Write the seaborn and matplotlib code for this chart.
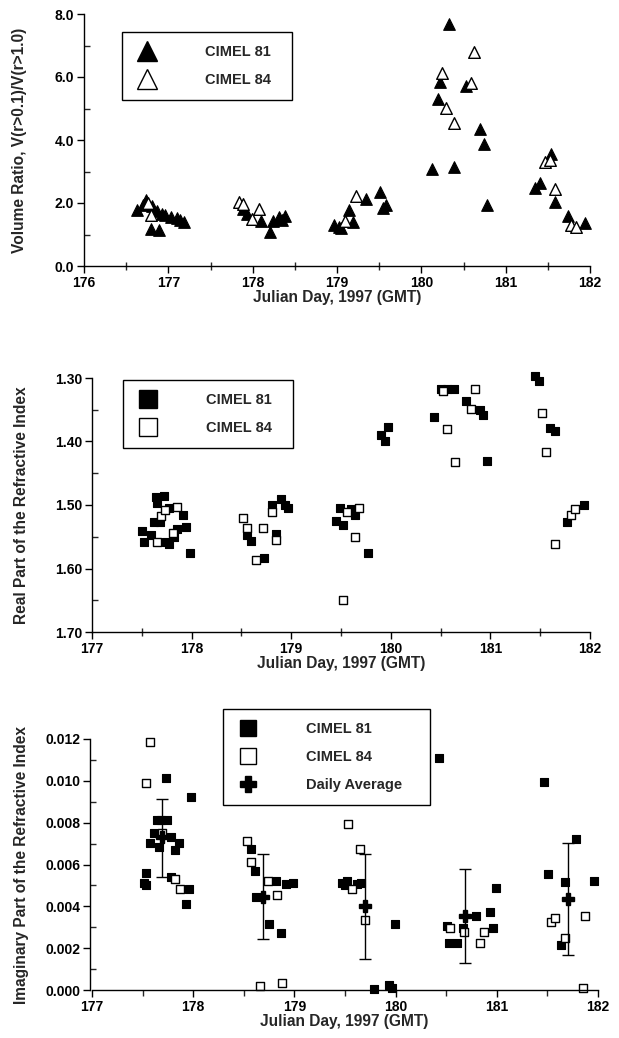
import matplotlib
matplotlib.use("Agg")
import matplotlib.pyplot as plt
import seaborn as sns
from matplotlib.ticker import MultipleLocator, FormatStrFormatter

# ---- panel 1: volume ratio ----
vr81_day = [176.63, 176.70, 176.74, 176.81, 176.86, 176.92, 176.96, 177.03, 177.10, 177.14,
            177.18, 176.79, 176.89,
            177.89, 177.93, 178.10, 178.20, 178.24, 178.31, 178.38, 178.35,
            178.97, 179.02, 179.05, 179.14, 179.19, 179.34, 179.51, 179.55, 179.58,
            180.13, 180.33, 180.22, 180.20, 180.39, 180.53, 180.70, 180.74, 180.78,
            181.35, 181.41, 181.54, 181.58, 181.74, 181.94]
vr81_val = [1.77, 1.95, 2.09, 1.90, 1.75, 1.65, 1.62, 1.57, 1.52, 1.45,
            1.40, 1.19, 1.13,
            1.82, 1.66, 1.42, 1.08, 1.43, 1.56, 1.58, 1.47,
            1.29, 1.24, 1.21, 1.77, 1.40, 2.12, 2.35, 1.85, 1.95,
            3.09, 7.67, 5.85, 5.29, 3.15, 5.71, 4.36, 3.86, 1.93,
            2.48, 2.62, 3.57, 2.03, 1.58, 1.35]
vr84_day = [176.80, 176.76, 177.84, 177.89, 177.99, 178.08, 179.10, 179.23,
            180.24, 180.29, 180.39, 180.63, 180.59,
            181.47, 181.52, 181.58, 181.77, 181.83]
vr84_val = [1.63, 2.00, 2.03, 1.96, 1.50, 1.82, 1.43, 2.21,
            6.13, 5.03, 4.54, 6.80, 5.82,
            3.31, 3.36, 2.46, 1.29, 1.24]

# ---- panel 2: real part ----
re81_day = [177.50, 177.52, 177.59, 177.62, 177.68, 177.64, 177.65, 177.72, 177.74, 177.77,
            177.77, 177.82, 177.85, 177.91, 177.94, 177.98,
            178.56, 178.60, 178.73, 178.81, 178.85, 178.90, 178.97, 178.94,
            179.49, 179.45, 179.52, 179.60, 179.64, 179.77,
            179.90, 179.94, 179.97,
            180.43, 180.50, 180.56, 180.63, 180.76, 180.90, 180.93, 180.97,
            181.45, 181.49, 181.60, 181.65, 181.77, 181.94]
re81_val = [1.541, 1.558, 1.548, 1.526, 1.526, 1.487, 1.497, 1.486, 1.559, 1.561,
            1.505, 1.550, 1.538, 1.516, 1.534, 1.575,
            1.548, 1.557, 1.583, 1.500, 1.546, 1.491, 1.505, 1.500,
            1.504, 1.525, 1.532, 1.507, 1.516, 1.576,
            1.389, 1.400, 1.377,
            1.362, 1.317, 1.317, 1.317, 1.337, 1.350, 1.359, 1.430,
            1.297, 1.304, 1.379, 1.383, 1.526, 1.500]
re84_day = [177.69, 177.73, 177.85, 177.65, 177.81,
            178.52, 178.56, 178.65, 178.72, 178.81, 178.85,
            179.56, 179.68, 179.64, 179.52,
            180.52, 180.56, 180.64, 180.85, 180.81,
            181.52, 181.56, 181.65, 181.81, 181.85]
re84_val = [1.517, 1.508, 1.503, 1.558, 1.544,
            1.521, 1.537, 1.586, 1.537, 1.511, 1.555,
            1.511, 1.504, 1.550, 1.650,
            1.321, 1.381, 1.432, 1.318, 1.349,
            1.355, 1.416, 1.562, 1.516, 1.507]

# ---- panel 3: imaginary part ----
im81_day = [177.51, 177.53, 177.53, 177.73, 177.98, 177.64, 177.68, 177.74, 177.61, 177.57,
            177.66, 177.78, 177.86, 177.82, 177.78, 177.96, 177.93,
            178.57, 178.61, 178.82, 178.92, 178.99, 178.62, 178.75, 178.87,
            179.47, 179.52, 179.50, 179.62, 179.66, 179.99, 179.79, 179.93, 179.96,
            180.43, 180.51, 180.67, 180.53, 180.61, 180.79, 180.93, 180.96, 180.99,
            181.47, 181.51, 181.67, 181.63, 181.78, 181.96]
im81_val = [0.00510, 0.00502, 0.00561, 0.01012, 0.00924, 0.00813, 0.00813, 0.00813, 0.00752, 0.00701,
            0.00682, 0.00730, 0.00701, 0.00669, 0.00542, 0.00481, 0.00411,
            0.00673, 0.00570, 0.00523, 0.00505, 0.00513, 0.00443, 0.00314, 0.00274,
            0.00513, 0.00521, 0.00502, 0.00507, 0.00513, 0.00314, 0.00005, 0.00024, 0.00008,
            0.01108, 0.00306, 0.00295, 0.00226, 0.00226, 0.00355, 0.00375, 0.00295, 0.00486,
            0.00996, 0.00555, 0.00515, 0.00215, 0.00722, 0.00523]
im84_day = [177.57, 177.53, 177.69, 177.82, 177.87,
            178.53, 178.57, 178.74, 178.83, 178.66, 178.88,
            179.53, 179.65, 179.57, 179.70,
            180.54, 180.68, 180.83, 180.87,
            181.54, 181.58, 181.67, 181.87, 181.85]
im84_val = [0.01184, 0.00991, 0.00749, 0.00531, 0.00481,
            0.00712, 0.00614, 0.00523, 0.00454, 0.00021, 0.00032,
            0.00792, 0.00673, 0.00481, 0.00335,
            0.00295, 0.00279, 0.00226, 0.00276,
            0.00327, 0.00346, 0.00247, 0.00355, 0.00008]
avg_day = [177.69, 178.69, 179.70, 180.69, 181.70]
avg_val = [0.00733, 0.00446, 0.00402, 0.00355, 0.00435]
avg_hi = [0.00912, 0.00649, 0.00650, 0.00578, 0.00704]
avg_lo = [0.00542, 0.00242, 0.00147, 0.00127, 0.00167]

sns.set_style("ticks")
plt.rcParams['font.family'] = ['Liberation Sans', 'DejaVu Sans']
plt.rcParams['font.weight'] = 'bold'
plt.rcParams['axes.labelweight'] = 'bold'

fig = plt.figure(figsize=(6.19, 10.38), dpi=100)
W, H = 619, 1038
LABEL_FS = 11.2
TICK_FS = 10


def make_axes(l, r, t, b):
    return fig.add_axes([l / W, 1 - b / H, (r - l) / W, (b - t) / H])


def style_axes(ax):
    sns.despine(ax=ax)
    for s in ['left', 'bottom']:
        ax.spines[s].set_linewidth(1.0)
        ax.spines[s].set_color('black')
    ax.tick_params(which='major', direction='out', length=5, width=1, labelsize=TICK_FS,
                   colors='black', pad=2)
    ax.tick_params(axis='x', which='minor', direction='inout', length=6, width=1)
    ax.tick_params(axis='y', which='minor', direction='in', length=4, width=1)
    for lab in ax.get_xticklabels() + ax.get_yticklabels():
        lab.set_fontweight('bold')


def add_legend(ax, handles, labels, x0, top, w):
    leg = ax.legend(handles, labels, loc='upper left', bbox_to_anchor=(x0, top, w, 0),
                    mode='expand', frameon=True, fancybox=False, edgecolor='black',
                    framealpha=1, fontsize=10.5, borderpad=0.9, labelspacing=0.95,
                    handletextpad=3.2, handlelength=1.6, markerscale=1.0, borderaxespad=0)
    leg.get_frame().set_linewidth(1.0)
    for t in leg.get_texts():
        t.set_fontweight('bold')
    return leg


# ---------- panel 1 ----------
ax1 = make_axes(84, 590, 14, 266)
sns.scatterplot(x=vr81_day, y=vr81_val, marker='^', color='black', edgecolor='black',
                s=70, linewidth=0.8, ax=ax1, clip_on=False)
sns.scatterplot(x=vr84_day, y=vr84_val, marker='^', color='white', edgecolor='black',
                s=70, linewidth=1.0, ax=ax1, clip_on=False)
ax1.set_xlim(176, 182)
ax1.set_ylim(0, 8)
ax1.xaxis.set_major_locator(MultipleLocator(1))
ax1.xaxis.set_minor_locator(MultipleLocator(0.5))
ax1.yaxis.set_major_locator(MultipleLocator(2))
ax1.yaxis.set_minor_locator(MultipleLocator(1))
ax1.yaxis.set_major_formatter(FormatStrFormatter('%.1f'))
ax1.set_xlabel("Julian Day, 1997 (GMT)", fontsize=LABEL_FS, fontweight='bold', labelpad=0)
ax1.set_ylabel("Volume Ratio, V(r>0.1)/V(r>1.0)", fontsize=LABEL_FS, fontweight='bold', labelpad=20)
style_axes(ax1)
m81 = plt.Line2D([], [], marker='^', color='black', ls='', markersize=14)
m84 = plt.Line2D([], [], marker='^', color='black', mfc='white', ls='', markersize=14)
add_legend(ax1, [m81, m84], ['CIMEL 81', 'CIMEL 84'], 0.075, 0.929, 0.336)

# ---------- panel 2 ----------
ax2 = make_axes(92, 590, 378, 632)
sns.scatterplot(x=re81_day, y=re81_val, marker='s', color='black', edgecolor='black',
                s=40, linewidth=0.8, ax=ax2, clip_on=False)
sns.scatterplot(x=re84_day, y=re84_val, marker='s', color='white', edgecolor='black',
                s=40, linewidth=1.0, ax=ax2, clip_on=False)
ax2.set_xlim(177, 182)
ax2.set_ylim(1.70, 1.30)
ax2.xaxis.set_major_locator(MultipleLocator(1))
ax2.xaxis.set_minor_locator(MultipleLocator(0.5))
ax2.yaxis.set_major_locator(MultipleLocator(0.1))
ax2.yaxis.set_minor_locator(MultipleLocator(0.05))
ax2.yaxis.set_major_formatter(FormatStrFormatter('%.2f'))
ax2.set_xlabel("Julian Day, 1997 (GMT)", fontsize=LABEL_FS, fontweight='bold', labelpad=0)
ax2.set_ylabel("Real Part of the Refractive Index", fontsize=LABEL_FS, fontweight='bold', labelpad=19)
style_axes(ax2)
s81 = plt.Line2D([], [], marker='s', color='black', ls='', markersize=13)
s84 = plt.Line2D([], [], marker='s', color='black', mfc='white', ls='', markersize=13)
add_legend(ax2, [s81, s84], ['CIMEL 81', 'CIMEL 84'], 0.062, 0.992, 0.341)

# ---------- panel 3 ----------
ax3 = make_axes(90, 598, 739, 990)
sns.scatterplot(x=im81_day, y=im81_val, marker='s', color='black', edgecolor='black',
                s=30, linewidth=0.8, ax=ax3, clip_on=False)
sns.scatterplot(x=im84_day, y=im84_val, marker='s', color='white', edgecolor='black',
                s=30, linewidth=1.0, ax=ax3, clip_on=False)
yerr = [[v - lo for v, lo in zip(avg_val, avg_lo)], [hi - v for v, hi in zip(avg_val, avg_hi)]]
ax3.errorbar(avg_day, avg_val, yerr=yerr, fmt='P', color='black', markersize=9,
             capsize=4, elinewidth=1, capthick=1, clip_on=False, zorder=5)
ax3.set_xlim(176.98, 182)
ax3.set_ylim(0, 0.012)
ax3.spines['bottom'].set_bounds(177, 182)
ax3.xaxis.set_major_locator(MultipleLocator(1))
ax3.xaxis.set_minor_locator(MultipleLocator(0.5))
ax3.yaxis.set_major_locator(MultipleLocator(0.002))
ax3.yaxis.set_minor_locator(MultipleLocator(0.001))
ax3.yaxis.set_major_formatter(FormatStrFormatter('%.3f'))
ax3.set_xlabel("Julian Day, 1997 (GMT)", fontsize=LABEL_FS, fontweight='bold', labelpad=0)
ax3.set_ylabel("Imaginary Part of the Refractive Index", fontsize=LABEL_FS, fontweight='bold', labelpad=12)
style_axes(ax3)
ax3.tick_params(axis='x', which='minor', direction='out', length=4)
s81b = plt.Line2D([], [], marker='s', color='black', ls='', markersize=12)
s84b = plt.Line2D([], [], marker='s', color='black', mfc='white', ls='', markersize=12)
p_avg = plt.Line2D([], [], marker='P', color='black', ls='', markersize=12)
add_legend(ax3, [s81b, s84b, p_avg], ['CIMEL 81', 'CIMEL 84', 'Daily Average'], 0.262, 1.12, 0.408)

fig.savefig("out.png", dpi=100)
